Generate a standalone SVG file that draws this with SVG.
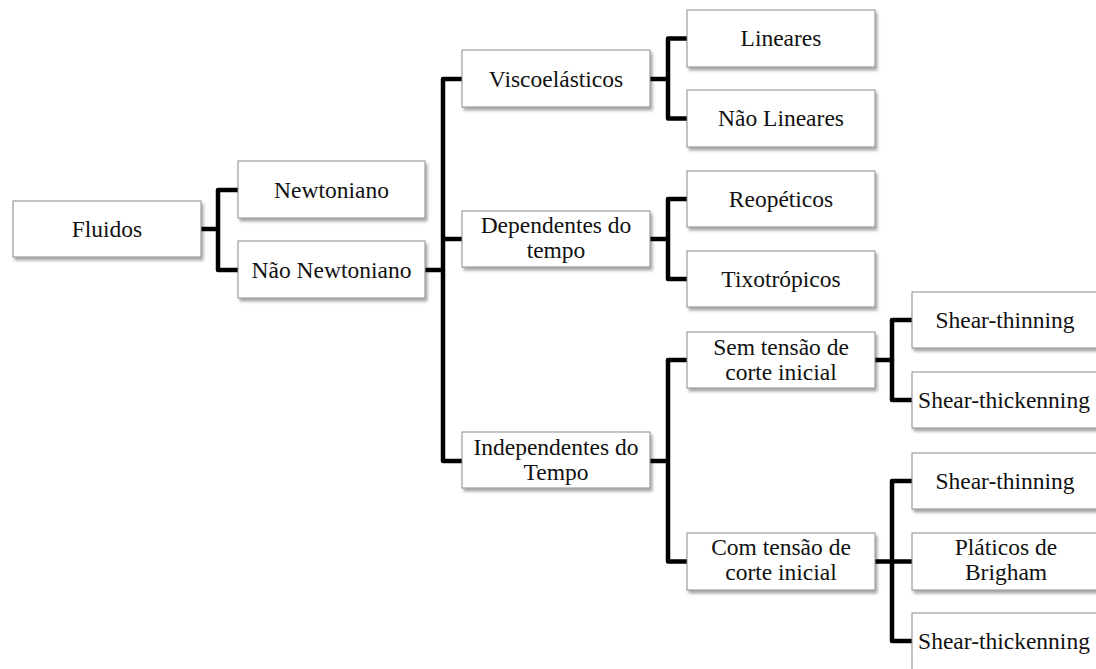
<svg xmlns="http://www.w3.org/2000/svg" width="1096" height="669" viewBox="0 0 1096 669">
<defs>
<filter id="sh" x="-10%" y="-20%" width="130%" height="160%">
<feDropShadow dx="2" dy="3" stdDeviation="1.8" flood-color="#000" flood-opacity="0.35"/>
</filter>
<style>
.box{fill:#fff;stroke:#8a8a8a;stroke-width:1;filter:url(#sh)}
.t{font-family:'Liberation Serif','Times New Roman','DejaVu Serif',serif;font-size:23.5px;fill:#111;text-anchor:middle}
.c{fill:none;stroke:#000;stroke-width:4.5;stroke-linejoin:round;stroke-linecap:butt}
</style>
</defs>
<rect width="1096" height="669" fill="#fff"/>
<g id="connectors">
<path class="c" d="M201 229 H218 M238 190 H218 V270 H238"/>
<path class="c" d="M425 270 H443 M462 79 H443 V461 H462 M443 239 H462"/>
<path class="c" d="M650 79 H668 M687 38.5 H668 V118.5 H687"/>
<path class="c" d="M650 239 H668 M687 199 H668 V279 H687"/>
<path class="c" d="M650 461 H668 M687 360 H668 V561.5 H687"/>
<path class="c" d="M875 360 H892 M912 320 H892 V400 H912"/>
<path class="c" d="M875 561.5 H892 M912 481 H892 V641 H912 M892 561.5 H912"/>
</g>
<g id="fluidos"><rect class="box" x="13" y="201" width="188" height="56"/><text class="t" x="107" y="237">Fluidos</text></g>
<g id="newtoniano"><rect class="box" x="238" y="161" width="187" height="57"/><text class="t" x="331.5" y="198">Newtoniano</text></g>
<g id="nao-newtoniano"><rect class="box" x="238" y="241" width="187" height="57"/><text class="t" x="331.5" y="278">Não Newtoniano</text></g>
<g id="viscoelasticos"><rect class="box" x="462" y="50" width="188" height="57"/><text class="t" x="556" y="87">Viscoelásticos</text></g>
<g id="dependentes"><rect class="box" x="462" y="211" width="188" height="56"/><text class="t" x="556" y="233">Dependentes do</text><text class="t" x="556" y="258">tempo</text></g>
<g id="independentes"><rect class="box" x="462" y="432" width="188" height="56"/><text class="t" x="556" y="455">Independentes do</text><text class="t" x="556" y="480">Tempo</text></g>
<g id="lineares"><rect class="box" x="687" y="10" width="188" height="57"/><text class="t" x="781" y="46">Lineares</text></g>
<g id="nao-lineares"><rect class="box" x="687" y="90" width="188" height="57"/><text class="t" x="781" y="126">Não Lineares</text></g>
<g id="reopeticos"><rect class="box" x="687" y="171" width="188" height="56"/><text class="t" x="781" y="207">Reopéticos</text></g>
<g id="tixotropicos"><rect class="box" x="687" y="251" width="188" height="56"/><text class="t" x="781" y="287">Tixotrópicos</text></g>
<g id="sem-tensao"><rect class="box" x="687" y="332" width="188" height="56"/><text class="t" x="781" y="355">Sem tensão de</text><text class="t" x="781" y="380">corte inicial</text></g>
<g id="com-tensao"><rect class="box" x="687" y="533" width="188" height="57"/><text class="t" x="781" y="555">Com tensão de</text><text class="t" x="781" y="580">corte inicial</text></g>
<g id="shear-thinning-1"><rect class="box" x="912" y="292" width="190" height="56"/><text class="t" x="1005" y="328">Shear-thinning</text></g>
<g id="shear-thickenning-1"><rect class="box" x="912" y="372" width="190" height="56"/><text class="t" x="1004" y="408">Shear-thickenning</text></g>
<g id="shear-thinning-2"><rect class="box" x="912" y="453" width="190" height="56"/><text class="t" x="1005" y="489">Shear-thinning</text></g>
<g id="platicos"><rect class="box" x="912" y="533" width="190" height="57"/><text class="t" x="1006" y="555">Pláticos de</text><text class="t" x="1006" y="580">Brigham</text></g>
<g id="shear-thickenning-2"><rect class="box" x="912" y="613" width="190" height="60"/><text class="t" x="1004" y="649">Shear-thickenning</text></g>
</svg>
